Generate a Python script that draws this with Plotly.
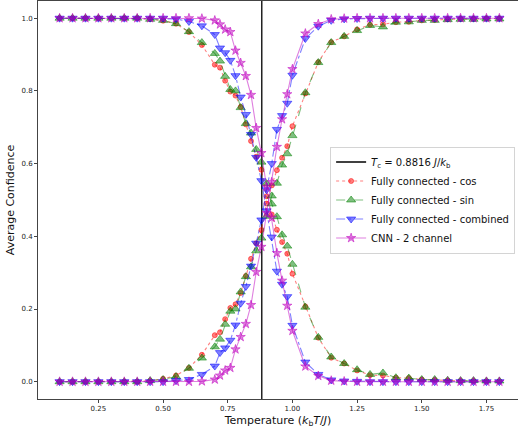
import plotly.graph_objects as go

# Temperatures (k_b T / J) at which the classifiers were evaluated
temperature = [0.10, 0.15, 0.20, 0.25, 0.30, 0.35, 0.40, 0.45, 0.50, 0.55, 0.60, 0.65,
               0.70, 0.72, 0.74, 0.76, 0.78, 0.80, 0.82, 0.84, 0.86, 0.88, 0.90, 0.92,
               0.94, 0.96, 0.98, 1.00,
               1.05, 1.10, 1.15, 1.20, 1.25, 1.30, 1.35, 1.40, 1.45, 1.50, 1.55, 1.60,
               1.65, 1.70, 1.75, 1.80]

# Average confidence for the ordered (low T) and disordered (high T) classes
cos_ordered = [1.0, 1.0, 1.0, 1.0, 1.0, 1.0, 1.0, 0.998, 0.993, 0.985, 0.962, 0.926,
               0.872, 0.864, 0.828, 0.798, 0.787, 0.756, 0.708, 0.662, 0.619, 0.583, 0.510, 0.460,
               0.418, 0.384, 0.352, 0.297,
               0.207, 0.121, 0.066, 0.050, 0.031, 0.018, 0.017, 0.011, 0.010, 0.006, 0.005, 0.003,
               0.002, 0.002, 0.001, 0.001]
cos_disordered = [0.0, 0.0, 0.0, 0.0, 0.0, 0.0, 0.0, 0.002, 0.008, 0.017, 0.038, 0.074,
                  0.128, 0.136, 0.172, 0.203, 0.213, 0.244, 0.291, 0.338, 0.381, 0.417, 0.490, 0.540,
                  0.582, 0.616, 0.648, 0.703,
                  0.793, 0.879, 0.934, 0.950, 0.969, 0.982, 0.983, 0.989, 0.990, 0.994, 0.995, 0.997,
                  0.998, 0.998, 0.999, 0.999]

sin_ordered = [1.0, 1.0, 1.0, 1.0, 1.0, 1.0, 1.0, 0.997, 0.994, 0.985, 0.963, 0.933,
               0.903, 0.882, 0.840, 0.804, 0.800, 0.754, 0.710, 0.684, 0.639, 0.604, 0.545, 0.489,
               0.454, 0.404, 0.373, 0.323,
               0.205, 0.122, 0.068, 0.050, 0.033, 0.020, 0.024, 0.011, 0.010, 0.006, 0.006, 0.004,
               0.003, 0.003, 0.002, 0.002]
sin_disordered = [0.0, 0.0, 0.0, 0.0, 0.0, 0.0, 0.0, 0.003, 0.006, 0.014, 0.037, 0.065,
                  0.096, 0.117, 0.158, 0.194, 0.200, 0.247, 0.289, 0.316, 0.360, 0.395, 0.455, 0.511,
                  0.546, 0.596, 0.627, 0.677,
                  0.795, 0.878, 0.933, 0.950, 0.966, 0.980, 0.976, 0.989, 0.990, 0.994, 0.994, 0.996,
                  0.997, 0.997, 0.998, 0.998]

combined_ordered = [1.0, 1.0, 1.0, 1.0, 1.0, 1.0, 1.0, 1.0, 1.0, 0.998, 0.991, 0.979,
                    0.955, 0.918, 0.905, 0.884, 0.842, 0.783, 0.735, 0.680, 0.617, 0.553, 0.470, 0.398,
                    0.304, 0.268, 0.234, 0.155,
                    0.054, 0.020, 0.005, 0.002, 0.001, 0.0, 0.0, 0.0, 0.0, 0.0, 0.0, 0.0,
                    0.0, 0.0, 0.0, 0.0]
combined_disordered = [0.0, 0.0, 0.0, 0.0, 0.0, 0.0, 0.0, 0.0, 0.0, 0.003, 0.006, 0.020,
                       0.043, 0.080, 0.093, 0.114, 0.156, 0.216, 0.262, 0.318, 0.381, 0.445, 0.528, 0.600,
                       0.694, 0.732, 0.766, 0.843,
                       0.944, 0.978, 0.994, 0.998, 0.999, 1.0, 1.0, 1.0, 1.0, 1.0, 1.0, 1.0,
                       1.0, 1.0, 1.0, 1.0]

cnn_ordered = [1.0, 1.0, 1.0, 1.0, 1.0, 1.0, 1.0, 1.0, 1.0, 1.0, 1.0, 0.999,
               0.994, 0.983, 0.969, 0.962, 0.911, 0.877, 0.841, 0.789, 0.698, 0.629, 0.536, 0.451,
               0.354, 0.278, 0.209, 0.140,
               0.042, 0.016, 0.003, 0.001, 0.0, 0.0, 0.0, 0.0, 0.0, 0.0, 0.0, 0.0,
               0.0, 0.0, 0.0, 0.0]
cnn_disordered = [0.0, 0.0, 0.0, 0.0, 0.0, 0.0, 0.0, 0.0, 0.0, 0.0, 0.0, 0.001,
                  0.006, 0.017, 0.031, 0.038, 0.089, 0.123, 0.159, 0.211, 0.302, 0.371, 0.464, 0.549,
                  0.646, 0.722, 0.791, 0.860,
                  0.958, 0.984, 0.997, 0.999, 1.0, 1.0, 1.0, 1.0, 1.0, 1.0, 1.0, 1.0,
                  1.0, 1.0, 1.0, 1.0]

T_CRITICAL = 0.8816
x_ticks = [0.25, 0.50, 0.75, 1.00, 1.25, 1.50, 1.75]
y_ticks = [0.0, 0.2, 0.4, 0.6, 0.8, 1.0]
X_RANGE = [0.0165, 1.872]
Y_RANGE = [-0.0476, 1.0473]

FONT = "DejaVu Sans"

series = [
    ("Fully connected - cos", cos_ordered, cos_disordered, (255, 0, 0), "circle", 5, "dot"),
    ("Fully connected - sin", sin_ordered, sin_disordered, (0, 128, 0), "triangle-up", 8, "dash"),
    ("Fully connected - combined", combined_ordered, combined_disordered, (0, 0, 255), "triangle-down", 8, "dashdot"),
    ("CNN - 2 channel", cnn_ordered, cnn_disordered, (191, 0, 191), "star", 7, "solid"),
]

fig = go.Figure()

fig.add_trace(go.Scatter(
    x=[T_CRITICAL, T_CRITICAL], y=Y_RANGE, mode="lines",
    line=dict(color="black", width=1.3),
    name="<i>T</i><sub>c</sub> = 0.8816 <i>J</i>/<i>k</i><sub>b</sub>",
))

for name, ordered, disordered, rgb, symbol, size, dash in series:
    rgba = "rgba(%d,%d,%d,0.5)" % rgb
    for k, values in enumerate((ordered, disordered)):
        fig.add_trace(go.Scatter(
            x=temperature, y=values, mode="lines+markers",
            name=name, legendgroup=name, showlegend=(k == 0),
            line=dict(color=rgba, width=1.1, dash=dash),
            marker=dict(symbol=symbol, size=size, color=rgba,
                        line=dict(color=rgba, width=1)),
        ))

fig.update_layout(
    width=518, height=434,
    margin=dict(l=38, r=0, t=1, b=35),
    paper_bgcolor="white", plot_bgcolor="white",
    font=dict(family=FONT, color="#222222"),
    showlegend=True,
    legend=dict(
        x=0.994, y=0.5, xanchor="right", yanchor="middle",
        font=dict(family=FONT, size=10, color="#111111"),
        bgcolor="rgba(255,255,255,0.85)",
        bordercolor="#d4d4d4", borderwidth=1,
        itemwidth=30, tracegroupgap=0,
    ),
    xaxis=dict(
        range=X_RANGE, tickvals=x_ticks, ticktext=["%.2f" % v for v in x_ticks],
        ticks="outside", ticklen=3, tickcolor="#444444",
        tickfont=dict(size=7, color="#222222"),
        showline=True, linecolor="#444444", linewidth=1, mirror=True,
        showgrid=False, zeroline=False,
        title=dict(text="Temperature (<i>k</i><sub>b</sub><i>T</i>/<i>J</i>)",
                   font=dict(size=11, color="#111111"), standoff=3),
    ),
    yaxis=dict(
        range=Y_RANGE, tickvals=y_ticks, ticktext=["%.1f" % v for v in y_ticks],
        ticks="outside", ticklen=3, tickcolor="#444444",
        tickfont=dict(size=7, color="#222222"),
        showline=True, linecolor="#444444", linewidth=1,
        showgrid=False, zeroline=False,
        title=dict(text="Average Confidence", font=dict(size=11, color="#111111"), standoff=4),
    ),
)

fig.write_html("out.html")
